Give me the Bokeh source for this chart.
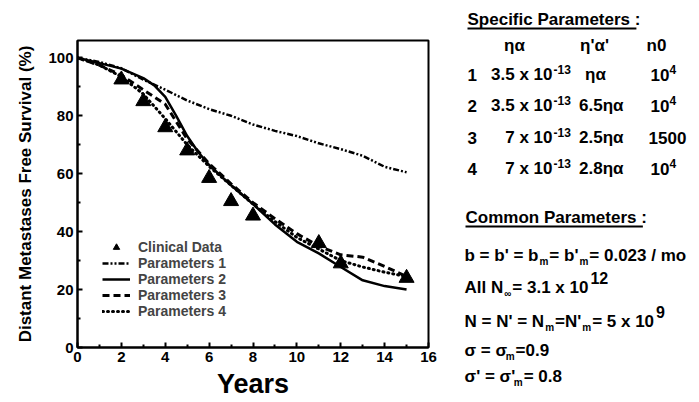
from bokeh.plotting import figure
from bokeh.layouts import row
from bokeh.models import Range1d, Legend, FixedTicker
from bokeh.core.properties import value
from bokeh.embed import file_html
from bokeh.resources import INLINE

FONT = "Liberation Sans"

# ---------------- data ----------------
clin_years = [2, 3, 4, 5, 6, 7, 8, 11, 12, 15]
clin_dmfs = [92.5, 85, 76, 68, 58.5, 50.5, 45.5, 36, 29, 24]

years = [0, 1, 2, 3, 4, 5, 6, 7, 8, 9, 10, 11, 12, 13, 14, 15]
param1 = [100, 98.6, 96.4, 92.5, 89, 85.3, 82.3, 80, 77, 74.8, 73, 70.5, 68.5, 66.2, 62.4, 60.5]
param2_years = [0, 1, 2, 3, 3.5, 4, 4.5, 5, 5.5, 6, 7, 8, 9, 10, 11, 12, 13, 14, 15]
param2 = [100, 98.2, 96.3, 93, 90.5, 86.5, 80, 73, 67.5, 63, 56, 49.5, 42.5, 36.5, 32.5, 27.8, 23.2, 21.2, 20]
param3 = [100, 97.5, 94, 89, 84, 72, 63.5, 56.5, 50, 44.5, 39.3, 35, 32, 31.2, 28, 24.5]
param4 = [100, 97.5, 93.5, 87.5, 79, 70, 62.5, 56, 49.5, 43.5, 38, 34, 30, 27.8, 26, 24.5]

x_ticks = [0, 2, 4, 6, 8, 10, 12, 14, 16]
x_minor = [1, 3, 5, 7, 9, 11, 13, 15]
y_ticks = [0, 20, 40, 60, 80, 100]
y_minor = [10, 30, 50, 70, 90]

legend_labels = ["Clinical Data", "Parameters 1", "Parameters 2", "Parameters 3", "Parameters 4"]

spec_title = "Specific Parameters :"
spec_headers = ["\u03b7\u03b1", "\u03b7'\u03b1'", "n0"]
set_ids = ["1", "2", "3", "4"]
eta_alpha_base = ["3.5 x 10", "3.5 x 10", "7 x 10", "7 x 10"]
eta_alpha_exp = ["-13", "-13", "-13", "-13"]
eta_alpha_prime = ["\u03b7\u03b1", "6.5\u03b7\u03b1", "2.5\u03b7\u03b1", "2.8\u03b7\u03b1"]
n0_values = ["10", "10", "1500", "10"]
n0_exp = ["4", "4", "", "4"]
common_title = "Common Parameters :"
common_lines = [
    [("b = b' = b", "n"), ("m", "sub"), ("= b'", "n"), ("m", "sub"), ("= 0.023 / mo", "n")],
    [("All N", "n"), ("\u221e", "sub"), ("= 3.1 x 10", "n"), ("12", "sup")],
    [("N = N' = N", "n"), ("m", "sub"), ("=N'", "n"), ("m", "sub"), ("= 5 x 10", "n"), ("9", "sup")],
    [("\u03c3 = \u03c3", "n"), ("m", "sub"), ("=0.9", "n")],
    [("\u03c3' = \u03c3'", "n"), ("m", "sub"), ("= 0.8", "n")],
]

# ---------------- main plot ----------------
p = figure(width=440, height=402, x_range=Range1d(0, 16), y_range=Range1d(0, 106),
           output_backend="svg", toolbar_location=None,
           min_border_left=77, min_border_right=12, min_border_top=40, min_border_bottom=55)
p.xgrid.visible = False
p.ygrid.visible = False
p.outline_line_color = "black"
p.outline_line_width = 2
p.background_fill_color = "white"
p.border_fill_color = "white"

p.xaxis.ticker = FixedTicker(ticks=x_ticks, minor_ticks=x_minor)
p.yaxis.ticker = FixedTicker(ticks=y_ticks, minor_ticks=y_minor)
for ax in (p.xaxis, p.yaxis):
    ax.axis_line_width = 2
    ax.major_tick_in = 5
    ax.major_tick_out = 0
    ax.minor_tick_in = 3
    ax.minor_tick_out = 0
    ax.major_tick_line_width = 2
    ax.minor_tick_line_width = 2
    ax.major_label_text_font = FONT
    ax.major_label_text_font_style = "bold"
    ax.major_label_text_font_size = "15px"
    ax.major_label_text_color = "black"
    ax.axis_label_text_font = FONT
    ax.axis_label_text_font_style = "bold"
    ax.axis_label_text_color = "black"
p.xaxis.major_label_standoff = 4
p.yaxis.major_label_standoff = 4
p.xaxis.axis_label = "Years"
p.xaxis.axis_label_text_font_size = "27px"
p.xaxis.axis_label_standoff = 4
p.yaxis.axis_label = "Distant Metastases Free Survival (%)"
p.yaxis.axis_label_text_font_size = "17px"
p.yaxis.axis_label_standoff = 10

r1 = p.line(years, param1, line_color="black", line_width=2.5, line_dash="6 2 2 2 2 2")
r2 = p.line(param2_years, param2, line_color="black", line_width=2.5)
r3 = p.line(years, param3, line_color="black", line_width=3, line_dash="7 4")
r4 = p.line(years, param4, line_color="black", line_width=3, line_dash="1 4", line_cap="round")
rc = p.scatter(clin_years, clin_dmfs, marker="triangle", size=15, color="black")

legend = Legend(items=[(legend_labels[0], [rc]), (legend_labels[1], [r1]), (legend_labels[2], [r2]),
                       (legend_labels[3], [r3]), (legend_labels[4], [r4])],
                location=(25, 28), label_text_font=FONT, label_text_font_style="bold",
                label_text_font_size="14px", glyph_width=28, glyph_height=16, label_height=16,
                spacing=0, padding=0, margin=0, border_line_alpha=0, background_fill_alpha=0,
                label_standoff=8)
p.add_layout(legend)

# ---------------- parameter panel: a second canvas in pixel coordinates ----------------
PH = 402
q = figure(width=259, height=PH, x_range=Range1d(440, 699), y_range=Range1d(0, PH),
           output_backend="svg", toolbar_location=None, x_axis_type=None, y_axis_type=None,
           min_border_left=0, min_border_right=0, min_border_top=0, min_border_bottom=0)
q.grid.visible = False
q.outline_line_color = None
q.border_fill_color = "white"
q.background_fill_color = "white"
for fig in (p, q):
    if "frame_align" in fig.properties():
        fig.frame_align = False

W = {" ": 278, "'": 238, "-": 333, ".": 278, "/": 278, ":": 333, "=": 584, "x": 556,
     "A": 722, "N": 722, "b": 611, "l": 278, "m": 889, "o": 611, "C": 722, "S": 667,
     "P": 667, "a": 556, "c": 556, "e": 556, "f": 333, "i": 278, "n": 611, "p": 611,
     "r": 389, "s": 556, "t": 333,
     "\u03b7": 611, "\u03b1": 620, "\u03c3": 611, "\u221e": 713}


def width(t, size):
    return sum(W.get(c, 556) for c in t) * size / 1000.0


def lab(x, y, t, size=17, align="left"):
    q.text(x=[x], y=[PH - y], text=[t], text_font=value(FONT), text_font_style="bold",
           text_font_size=f"{size}px", text_align=align, text_baseline="middle",
           text_color="black")


def underline(x0, x1, y):
    q.quad(left=[x0], right=[x1], top=[PH - y + 1], bottom=[PH - y - 1],
           fill_color="black", line_color=None)


BODY = 17
rows_y = [74, 105, 137, 168]
lab(467, 19, spec_title, size=BODY)
underline(467, 467 + width(spec_title, BODY) - 4, 28)
for cx, h in zip([514, 594, 656], spec_headers):
    lab(cx, 45, h, align="center")
for i, y in enumerate(rows_y):
    lab(467, y, set_ids[i])
    lab(552, y, eta_alpha_base[i], align="right")
    lab(553, y - 5, eta_alpha_exp[i], size=12)
    if i == 0:
        lab(595, y, eta_alpha_prime[i], align="center")
    else:
        lab(623, y, eta_alpha_prime[i], align="right")
    if n0_exp[i]:
        lab(669, y, n0_values[i], align="right")
        lab(669, y - 5, n0_exp[i], size=12)
    else:
        lab(667, y, n0_values[i], align="center")

lab(465, 217, common_title, size=BODY)
underline(465, 465 + width(common_title, BODY) - 4, 226)

line_y = [255, 287, 321, 350, 376]
for y, pieces in zip(line_y, common_lines):
    x = 464
    for t, kind in pieces:
        if kind == "n":
            lab(x, y, t, size=BODY)
            x += width(t, BODY) + 1
        elif kind == "sub":
            lab(x, y + 6, t, size=10)
            x += width(t, 10) + 1
        else:
            lab(x + 1, y - 10, t, size=16)
            x += width(t, 16) + 1

layout = row(p, q)
open("out.html", "w").write(file_html(layout, INLINE))
